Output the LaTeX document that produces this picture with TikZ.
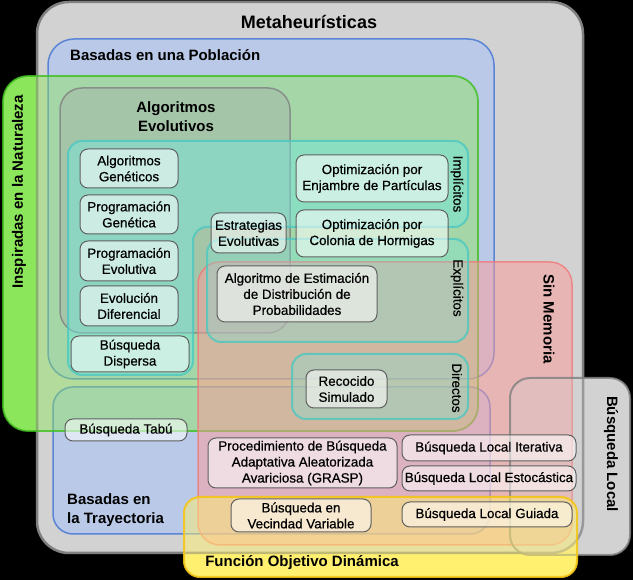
\documentclass[tikz,border=0pt]{standalone}
\usepackage{fontspec}
\setmainfont{Liberation Sans}
\newfontfamily\itemfont[FakeBold=0.6]{Liberation Sans}
\definecolor{metafill}{HTML}{D2D2D2}
\definecolor{metaline}{HTML}{808080}
\definecolor{bluefill}{HTML}{B9C9E7}
\definecolor{blueline}{HTML}{5B84D6}
\definecolor{greenfill}{HTML}{8CE65C}
\definecolor{greenline}{HTML}{3FBF1F}
\definecolor{redfill}{HTML}{FF9A9A}
\definecolor{redline}{HTML}{F07878}
\definecolor{tealfill}{HTML}{70E8E0}
\definecolor{tealline}{HTML}{4CC8C0}
\definecolor{yelfill}{HTML}{FFF070}
\definecolor{yelline}{HTML}{F5C518}
\definecolor{boxline}{HTML}{606060}
\begin{document}
\begin{tikzpicture}[x=1pt,y=-1pt,
  itembox/.style={draw=boxline, line width=1pt, fill=white, fill opacity=0.55, text opacity=1,
    rounded corners=8pt, inner sep=0pt, align=center, font=\itemfont\fontsize{13.4}{16}\selectfont},
  bigtitle/.style={font=\bfseries\fontsize{15}{19}\selectfont, inner sep=0pt},
  smalltitle/.style={font=\itemfont\fontsize{13.4}{16}\selectfont, inner sep=0pt}]
\useasboundingbox (0,0) rectangle (633,580);
\fill[black] (0,0) rectangle (633,580);
% opaque under-layers for parts outside Metaheuristicas
\fill[greenfill, rounded corners=25pt] (3,76) rectangle (478,431);
\fill[metafill, rounded corners=20pt] (510,378) rectangle (630,555);
\fill[yelfill, rounded corners=16pt] (184,497) rectangle (577,577);
% Metaheuristicas
\draw[metaline, line width=2.5pt, fill=metafill, rounded corners=32pt] (37,2) rectangle (583,553);
% Basadas en una Poblacion
\draw[blueline, line width=1.5pt, fill=bluefill, rounded corners=26pt] (48,39) rectangle (494,379);
% Basadas en la Trayectoria
\draw[blueline, line width=1.5pt, fill=bluefill, rounded corners=20pt] (53,387) rectangle (490,534);
% Inspiradas en la Naturaleza
\fill[greenfill, fill opacity=0.45, rounded corners=25pt] (3,76) rectangle (478,431);
\draw[greenline, line width=1.8pt, draw opacity=0.8, rounded corners=25pt] (3,76) rectangle (478,431);
% Algoritmos Evolutivos
\draw[metaline, line width=1.5pt, draw opacity=0.8, fill=metafill!80!black, fill opacity=0.35, rounded corners=22pt] (60,88) rectangle (290,333);
% Sin Memoria
\draw[redline, line width=1.5pt, draw opacity=0.8, fill=redfill, fill opacity=0.5, rounded corners=22pt] (198,262) rectangle (572,545);
% Implicitos (L-shape), Explicitos, Directos
\draw[tealline, line width=2pt, draw opacity=0.8, fill=tealfill, fill opacity=0.45, rounded corners=14pt]
  (68,141) -- (468,141) -- (468,227) -- (193,227) -- (193,375) -- (68,375) -- cycle;
\draw[tealline, line width=2pt, draw opacity=0.8, fill=tealfill, fill opacity=0.3, rounded corners=14pt] (207,239) rectangle (468,342);
\draw[tealline, line width=2pt, draw opacity=0.8, fill=tealfill, fill opacity=0.3, rounded corners=14pt] (292,354) rectangle (468,419);
% Busqueda Local
\draw[metaline, line width=2pt, draw opacity=0.8, fill=metafill, fill opacity=0.3, rounded corners=20pt] (510,378) rectangle (630,555);
% Funcion Objetivo Dinamica
\draw[yelline, line width=2pt, draw opacity=0.9, fill=yelfill, fill opacity=0.5, rounded corners=16pt] (184,497) rectangle (577,577);

% item nodes
\node[itembox, minimum width=98pt, minimum height=39pt] (ag) at (129,168.5) {Algoritmos\\Genéticos};
\node[itembox, minimum width=98pt, minimum height=39pt] (pg) at (129,214.5) {Programación\\Genética};
\node[itembox, minimum width=98pt, minimum height=40pt] (pe) at (129,261) {Programación\\Evolutiva};
\node[itembox, minimum width=98pt, minimum height=40pt] (ed) at (129,306) {Evolución\\Diferencial};
\node[itembox, minimum width=118pt, minimum height=36pt] (bd) at (130,354) {Búsqueda\\Dispersa};
\node[itembox, minimum width=75pt, minimum height=40pt] (ee) at (248.5,233) {Estrategias\\Evolutivas};
\node[itembox, minimum width=152pt, minimum height=47pt] (oep) at (372,178.5) {Optimización por\\Enjambre de Partículas};
\node[itembox, minimum width=152pt, minimum height=47pt] (och) at (372,233.5) {Optimización por\\Colonia de Hormigas};
\node[itembox, minimum width=160pt, minimum height=56pt] (aed) at (297,294) {Algoritmo de Estimación\\de Distribución de\\Probabilidades};
\node[itembox, minimum width=81pt, minimum height=38pt] (rs) at (346.5,389) {Recocido\\Simulado};
\node[itembox, minimum width=122pt, minimum height=22pt] (bt) at (126,430) {Búsqueda Tabú};
\node[itembox, minimum width=189pt, minimum height=50pt] (grasp) at (302.5,463) {Procedimiento de Búsqueda\\Adaptativa Aleatorizada\\Avariciosa (GRASP)};
\node[itembox, minimum width=174pt, minimum height=26pt] (bli) at (489,448) {Búsqueda Local Iterativa};
\node[itembox, minimum width=174pt, minimum height=25pt] (ble) at (489,478.5) {Búsqueda Local Estocástica};
\node[itembox, minimum width=140pt, minimum height=33pt] (bvv) at (301,515.5) {Búsqueda en\\Vecindad Variable};
\node[itembox, minimum width=170pt, minimum height=25pt] (blg) at (487,514.5) {Búsqueda Local Guiada};

% titles
\node[font=\bfseries\fontsize{18}{22}\selectfont, inner sep=0pt] (tmeta) at (309,22) {Metaheurísticas};
\node[bigtitle, anchor=west] (tpob) at (70,55) {Basadas en una Población};
\node[bigtitle, align=center] (tae) at (176,117) {Algoritmos\\Evolutivos};
\node[bigtitle, align=left, anchor=west] (ttray) at (67,510) {Basadas en\\la Trayectoria};
\node[bigtitle] (tfod) at (302,563) {Función Objetivo Dinámica};
\node[bigtitle, rotate=-90] (tsm) at (549,319) {Sin Memoria};
\node[bigtitle, rotate=-90] (tbl) at (611,454) {Búsqueda Local};
\node[bigtitle, rotate=90] (tnat) at (19,192) {Inspiradas en la Naturaleza};
\node[smalltitle, rotate=-90] (timp) at (457,184) {Implícitos};
\node[smalltitle, rotate=-90] (texp) at (457,288) {Explícitos};
\node[smalltitle, rotate=-90] (tdir) at (457,388) {Directos};
\end{tikzpicture}
\end{document}
